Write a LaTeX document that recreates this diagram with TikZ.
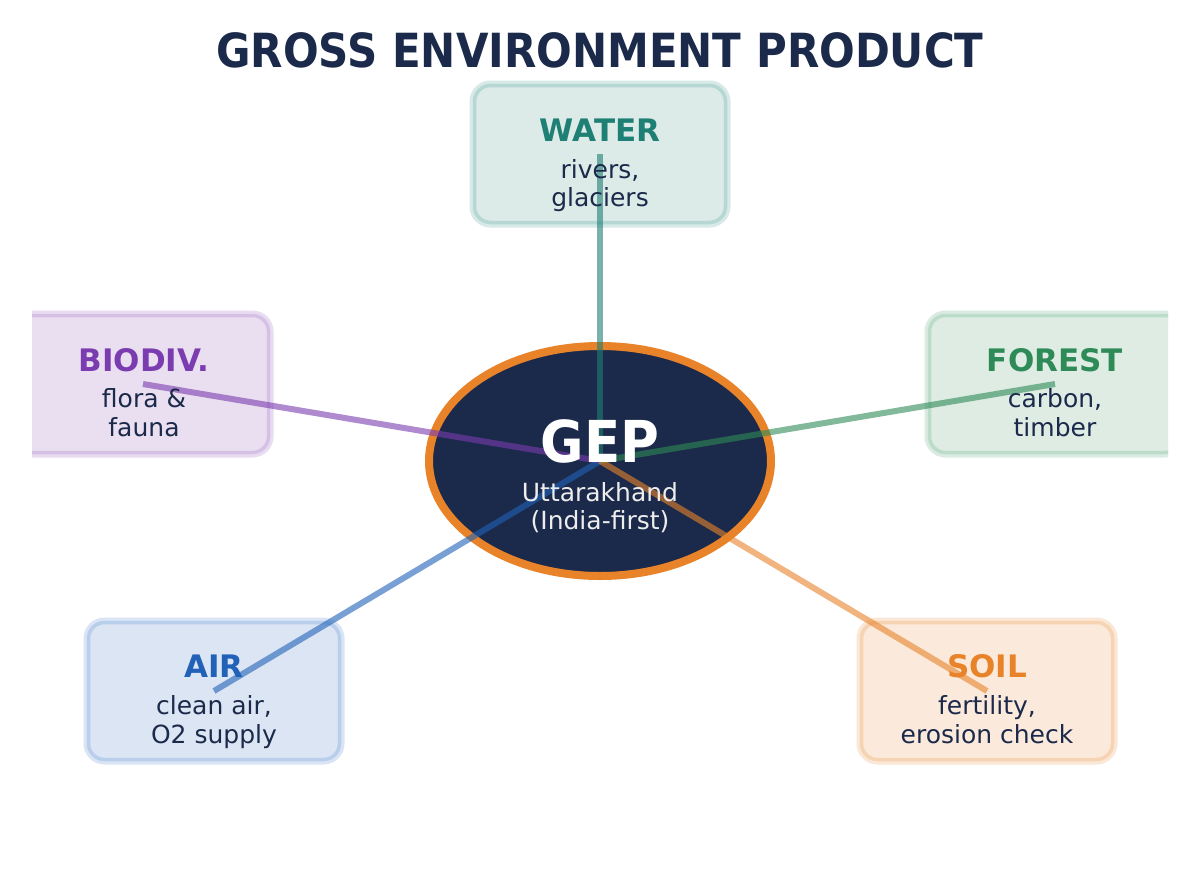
\documentclass[tikz,border=0pt]{standalone}
\usepackage{fontspec}
\setmainfont{DejaVu Sans}
\usetikzlibrary{shapes.geometric}
\definecolor{navy}{HTML}{1B2A4A}
\definecolor{gold}{HTML}{E8832A}
\definecolor{cwater}{HTML}{1E7F74}
\definecolor{cbio}{HTML}{7B3CB0}
\definecolor{cforest}{HTML}{2E8B57}
\definecolor{cair}{HTML}{2162B8}
\definecolor{csoil}{HTML}{E8832A}
\definecolor{fwater}{HTML}{DCEAE8}
\definecolor{fbio}{HTML}{EADFF0}
\definecolor{fforest}{HTML}{DEECE4}
\definecolor{fair}{HTML}{DCE5F3}
\definecolor{fsoil}{HTML}{FBEADC}
\definecolor{bwater}{HTML}{B6D8D4}
\definecolor{bbio}{HTML}{D6C0E6}
\definecolor{bforest}{HTML}{BCDCCA}
\definecolor{bair}{HTML}{B9CEEB}
\definecolor{bsoil}{HTML}{F6D3B3}
\begin{document}
\begin{tikzpicture}[x=1pt,y=-1pt,
  card/.style 2 args={rectangle,rounded corners=16pt,minimum width=251pt,minimum height=137pt,
    inner sep=0pt,fill=#1,draw=#2,line width=3.5pt,
    preaction={draw=#2!55!white,line width=10pt}},
  ttl/.style={anchor=base,font=\bfseries\fontsize{31}{36}\selectfont},
  sub/.style={anchor=base,font=\fontsize{25}{28}\selectfont,text=navy},
  link/.style={line width=6pt,opacity=0.6}]
\useasboundingbox[fill=white] (0,0) rectangle (1200,876);
\node[anchor=base,font=\bfseries\fontsize{42}{48}\selectfont,text=navy,inner sep=0pt] (title) at (600,67.5) {\scalebox{1}[1.12]{GROSS ENVIRONMENT PRODUCT}};
\begin{scope}
  \clip (32,0) rectangle (1168,876);
  \node[card={fwater}{bwater}] (water) at (600,154) {};
  \node[card={fbio}{bbio}] (bio) at (143,384) {};
  \node[card={fforest}{bforest}] (forest) at (1055,384) {};
  \node[card={fair}{bair}] (air) at (214,691) {};
  \node[card={fsoil}{bsoil}] (soil) at (987,691) {};
\end{scope}
\node[ellipse,minimum width=342pt,minimum height=230pt,inner sep=0pt,fill=navy,draw=gold,line width=8pt] (gep) at (600,461) {};
\draw[link,cwater] (water.center) -- (gep.center);
\draw[link,cbio] (bio.center) -- (gep.center);
\draw[link,cforest] (forest.center) -- (gep.center);
\draw[link,cair] (air.center) -- (gep.center);
\draw[link,csoil] (soil.center) -- (gep.center);
% center texts
\node[anchor=base,font=\bfseries\fontsize{53}{60}\selectfont,text=white,inner sep=0pt] (geptitle) at (600,462) {\scalebox{1}[1.09]{GEP}};
\node[anchor=base,font=\fontsize{25}{28}\selectfont,text=white!93!black] (gepa) at (600,501) {Uttarakhand};
\node[anchor=base,font=\fontsize{25}{28}\selectfont,text=white!93!black] (gepb) at (600,529) {(India-first)};
% water
\node[ttl,text=cwater] (waterT) at (600,141) {WATER};
\node[sub] (waterA) at (600,178) {rivers,};
\node[sub] (waterB) at (600,206) {glaciers};
% biodiversity
\node[ttl,text=cbio] (bioT) at (144,371) {BIODIV.};
\node[sub] (bioA) at (144,407) {flora \&};
\node[sub] (bioB) at (144,436) {fauna};
% forest
\node[ttl,text=cforest] (forestT) at (1055,371) {FOREST};
\node[sub] (forestA) at (1055,407) {carbon,};
\node[sub] (forestB) at (1055,436) {timber};
% air
\node[ttl,text=cair] (airT) at (214,677) {AIR};
\node[sub] (airA) at (214,714) {clean air,};
\node[sub] (airB) at (214,743) {O2 supply};
% soil
\node[ttl,text=csoil] (soilT) at (987,677) {SOIL};
\node[sub] (soilA) at (987,714) {fertility,};
\node[sub] (soilB) at (987,743) {erosion check};
\end{tikzpicture}
\end{document}
